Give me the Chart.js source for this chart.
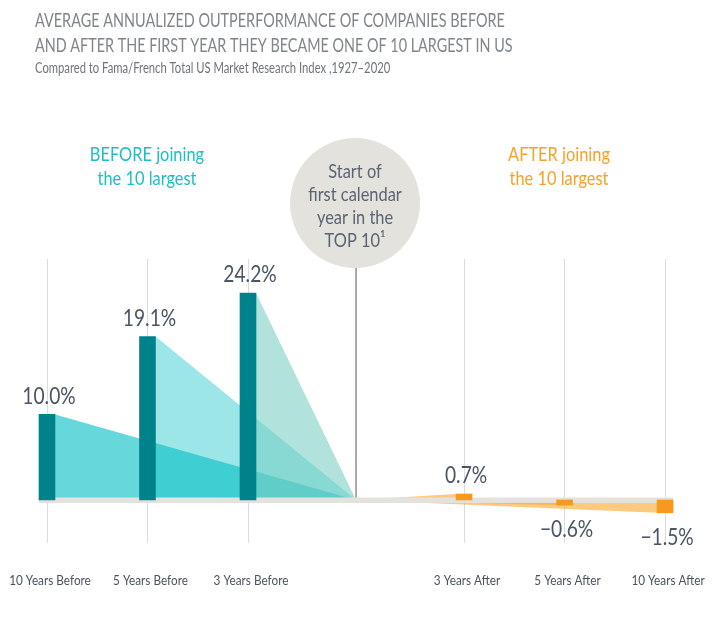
<!DOCTYPE html>
<html>
<head>
<meta charset="utf-8">
<script src="https://cdn.jsdelivr.net/npm/chart.js@4.4.1/dist/chart.umd.min.js"></script>
<style>
html, body { margin: 0; padding: 0; background: #fff; }
#chart { display: block; }
</style>
</head>
<body>
<canvas id="chart" width="713" height="620"></canvas>
<script>
// data
var beforeLabels = ["10 Years Before", "5 Years Before", "3 Years Before"];
var beforeValues = [10.0, 19.1, 24.2];
var afterLabels = ["3 Years After", "5 Years After", "10 Years After"];
var afterValues = [0.7, -0.6, -1.5];
var valueText = function (v) { return v.toFixed(1) + "%"; };

var titleLines = [
	"AVERAGE ANNUALIZED OUTPERFORMANCE OF COMPANIES BEFORE",
	"AND AFTER THE FIRST YEAR THEY BECAME ONE OF 10 LARGEST IN US"
];
var subtitle = "Compared to Fama/French Total US Market Research Index ,1927\u20132020";
var beforeHeading = ["BEFORE joining", "the 10 largest"];
var afterHeading = ["AFTER joining", "the 10 largest"];
var circleLines = ["Start of", "first calendar", "year in the", "TOP 10\u00b9"];

// layout of the x positions (in axis units)
var GAP = 1.075;
var HALF_BAR = 0.08;
var centerPos = (beforeValues.length - 1) + GAP;
var beforePos = beforeValues.map(function (v, i) { return i; });
var afterPos = afterValues.map(function (v, i) { return centerPos + GAP + i; });
var tickPos = beforePos.concat(afterPos);
var tickLabels = beforeLabels.concat(afterLabels);

var TEAL = "#00828a";
var ORANGE = "#f7991d";
var INK = "#4b5463";

function wedge(fromX, fromY, color, order) {
	return {
		type: 'line',
		data: [{ x: fromX, y: fromY }, { x: centerPos, y: 0 }],
		fill: 'origin',
		backgroundColor: color,
		borderColor: 'rgba(0,0,0,0)',
		borderWidth: 0,
		pointRadius: 0,
		tension: 0,
		order: order
	};
}

var wedgeBefore = ["rgba(0,190,195,0.6)", "rgba(0,190,195,0.39)", "rgba(120,205,195,0.58)"];
var datasets = [
	{
		type: 'bar',
		data: beforeValues.map(function (v, i) { return { x: beforePos[i], y: v }; }),
		backgroundColor: TEAL,
		barThickness: 16,
		grouped: false,
		order: 0
	},
	{
		type: 'bar',
		data: afterValues.map(function (v, i) { return { x: afterPos[i], y: v }; }),
		backgroundColor: ORANGE,
		barThickness: 16,
		grouped: false,
		order: 0
	}
];
beforeValues.forEach(function (v, i) {
	datasets.push(wedge(beforePos[i] + HALF_BAR, v, wedgeBefore[i], 3 - i));
});
afterValues.forEach(function (v, i) {
	datasets.push(wedge(afterPos[i] - HALF_BAR, v, "rgba(250,165,40,0.6)", 3 - i));
});

function drawText(ctx, str, x, y, size, color, opts) {
	opts = opts || {};
	ctx.save();
	ctx.font = (opts.weight || 400) + ' ' + size + 'px Lato, "Open Sans", sans-serif';
	ctx.fillStyle = color;
	ctx.textAlign = opts.align || 'center';
	ctx.textBaseline = 'alphabetic';
	ctx.translate(x, y);
	ctx.scale(opts.sx || 0.8, 1);
	ctx.fillText(str, 0, 0);
	ctx.restore();
}

var decor = {
	id: 'decor',
	beforeDatasetDraw: function (chart, args) {
		// zero band: over the wedges, under the bars
		if (args.index !== 1) return;
		var ctx = chart.ctx;
		var xs = chart.scales.x, ys = chart.scales.y;
		var zero = ys.getPixelForValue(0);
		var left = xs.getPixelForValue(beforePos[0] - HALF_BAR);
		var right = xs.getPixelForValue(afterPos[afterPos.length - 1] + HALF_BAR);
		ctx.save();
		ctx.fillStyle = "#e4e2dd";
		ctx.fillRect(left, zero - 2.5, right - left, 5.5);
		ctx.restore();
	},
	afterDatasetsDraw: function (chart) {
		var ctx = chart.ctx;
		var xs = chart.scales.x, ys = chart.scales.y;
		var zero = ys.getPixelForValue(0);
		var cx = xs.getPixelForValue(centerPos);
		// centre line
		ctx.save();
		ctx.strokeStyle = "#7d716b";
		ctx.lineWidth = 1.2;
		ctx.beginPath();
		ctx.moveTo(cx, 266);
		ctx.lineTo(cx, zero - 2.5);
		ctx.stroke();
		ctx.restore();
	},
	afterDraw: function (chart) {
		var ctx = chart.ctx;
		var xs = chart.scales.x;
		var cx = xs.getPixelForValue(centerPos);

		drawText(ctx, titleLines[0], 35, 27, 19, "#7f858b", { align: 'left', sx: 0.76 });
		drawText(ctx, titleLines[1], 35, 52, 19, "#7f858b", { align: 'left', sx: 0.757 });
		drawText(ctx, subtitle, 35, 73, 14.5, "#6e747c", { align: 'left', sx: 0.775 });

		drawText(ctx, beforeHeading[0], 147, 161, 20, "#20bdc7", { sx: 0.82 });
		drawText(ctx, beforeHeading[1], 147, 185, 20, "#20bdc7", { sx: 0.82 });
		drawText(ctx, afterHeading[0], 559, 161, 20, "#f5a12a", { sx: 0.82 });
		drawText(ctx, afterHeading[1], 559, 185, 20, "#f5a12a", { sx: 0.82 });

		ctx.save();
		ctx.fillStyle = "#e4e2dd";
		ctx.beginPath();
		ctx.arc(cx - 1, 203, 65, 0, Math.PI * 2);
		ctx.fill();
		ctx.restore();
		circleLines.forEach(function (line, i) {
			drawText(ctx, line, cx - 1, 177.5 + 23 * i, 20, "#5b6472", { sx: 0.82 });
		});

		[0, 1].forEach(function (d) {
			var vals = d === 0 ? beforeValues : afterValues;
			chart.getDatasetMeta(d).data.forEach(function (el, i) {
				var v = vals[i];
				var y = v >= 0 ? el.y - 10.5 : el.y + 32;
				drawText(ctx, valueText(v).replace('-', '\u2212'), el.x + 2, y, 24, INK, { sx: 0.8 });
			});
		});

		tickPos.forEach(function (p, i) {
			drawText(ctx, tickLabels[i], xs.getPixelForValue(p) + 3, 585, 14, "#4a5260", { sx: 0.84 });
		});
	}
};

var pxPerUnit = 100.5;
var xMin = -47 / pxPerUnit;

new Chart(document.getElementById('chart'), {
	type: 'bar',
	data: { datasets: datasets },
	options: {
		responsive: false,
		animation: false,
		layout: { padding: { top: 259, bottom: 77, left: 0, right: 0 } },
		plugins: { legend: { display: false }, tooltip: { enabled: false }, title: { display: false } },
		scales: {
			x: {
				type: 'linear',
				min: xMin,
				max: xMin + 713 / pxPerUnit,
				bounds: 'data',
				offset: false,
				afterBuildTicks: function (scale) {
					scale.ticks = tickPos.map(function (v) { return { value: v }; });
				},
				ticks: { display: false },
				grid: { offset: false, color: "#dcdcdc", lineWidth: 1, drawTicks: false },
				border: { display: false }
			},
			y: {
				display: false,
				min: -5.03,
				max: 28.17
			}
		}
	},
	plugins: [decor]
});
</script>
</body>
</html>
